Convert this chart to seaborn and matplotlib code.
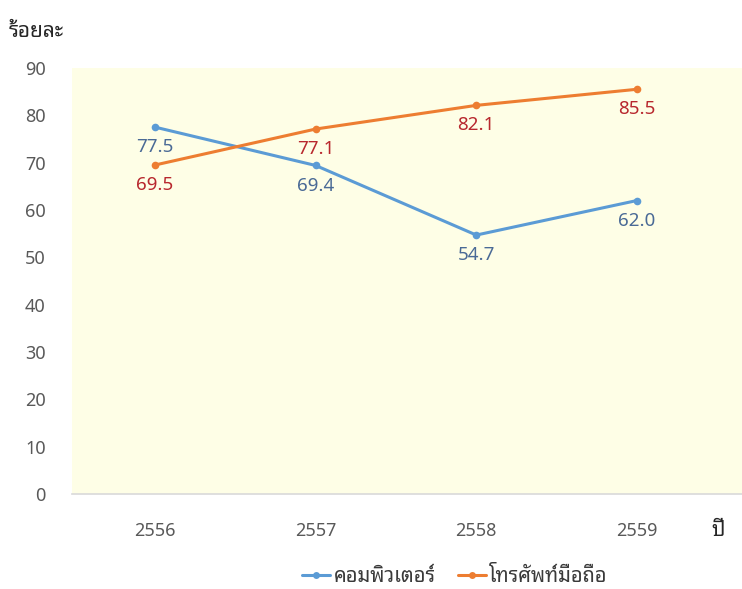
import matplotlib
matplotlib.use("Agg")
import matplotlib.pyplot as plt
from matplotlib.lines import Line2D
from matplotlib.font_manager import FontProperties
import seaborn as sns
import pandas as pd

years = ["2556", "2557", "2558", "2559"]
computer = [77.5, 69.4, 54.7, 62.0]
mobile = [69.5, 77.1, 82.1, 85.5]
series_names = ["คอมพิวเตอร์", "โทรศัพท์มือถือ"]
y_ticks = [0, 10, 20, 30, 40, 50, 60, 70, 80, 90]

line_colors = ["#5B9BD5", "#ED7D31"]
label_colors = ["#4A6A96", "#B8282E"]

sns.set_theme(style="white")
plt.rcParams["font.family"] = ["Noto Sans Thai Looped", "Noto Sans", "DejaVu Sans"]
thai_bold = FontProperties(family=["Noto Sans Thai Looped", "Noto Sans Thai", "DejaVu Sans"],
                           weight="bold", size=15)

rows = []
for name, vals in zip(series_names, [computer, mobile]):
    for i, v in enumerate(vals):
        rows.append({"pos": i, "year": years[i], "value": v, "series": name})
df = pd.DataFrame(rows)

fig = plt.figure(figsize=(7.42, 5.89), dpi=100)
ax = fig.add_axes([0.097, 0.1613, 0.903, 0.7233])
ax.set_facecolor("#FEFEE6")

sns.lineplot(data=df, x="pos", y="value", hue="series", palette=line_colors,
             hue_order=series_names, marker="o", markersize=5.5, markeredgewidth=0,
             linewidth=2.2, ax=ax, legend=False, sort=False)

# value labels under each point
for name, col in zip(series_names, label_colors):
    sub = df[df["series"] == name]
    for _, r in sub.iterrows():
        ax.annotate(f"{r['value']:.1f}", (r["pos"], r["value"]), xytext=(0, -8),
                    textcoords="offset points", ha="center", va="top",
                    fontsize=13.5, color=col, family=["Noto Sans", "DejaVu Sans"])

ax.set_xlim(-0.517, 3.654)
ax.set_ylim(0, 90)
ax.set_xticks(range(len(years)))
ax.set_xticklabels(years)
ax.set_yticks(y_ticks)
ax.set_yticklabels([str(t) for t in y_ticks])
ax.tick_params(axis="both", length=0, labelsize=13, labelcolor="#595959")
ax.tick_params(axis="x", pad=20)
ax.tick_params(axis="y", pad=19)
for lab in ax.get_xticklabels() + ax.get_yticklabels():
    lab.set_family(["Noto Sans", "DejaVu Sans"])
    lab.set_fontweight("light")
for s in ["top", "right", "left"]:
    ax.spines[s].set_visible(False)
ax.spines["bottom"].set_color("#D9D9D9")
ax.spines["bottom"].set_linewidth(1.2)
ax.set_xlabel("")
ax.set_ylabel("")

fig.text(0.012, 0.946, "ร้อยละ", fontproperties=thai_bold, color="#262626",
         ha="left", va="center")
fig.text(0.968, 0.100, "ปี", fontproperties=thai_bold, color="#262626",
         ha="center", va="center")

handles = [Line2D([0], [0], color=c, lw=2.2, marker="o", markersize=5, markeredgewidth=0)
           for c in line_colors]
leg_font = FontProperties(family=["Noto Sans Thai Looped", "Noto Sans Thai", "DejaVu Sans"],
                          weight="bold", size=14.5)
fig.legend(handles, series_names, loc="center", bbox_to_anchor=(0.613, 0.02),
           ncol=2, frameon=False, prop=leg_font, handlelength=1.4, handletextpad=0.15,
           columnspacing=1.1)
for t in fig.legends[0].get_texts():
    t.set_color("#3A3A3A")

fig.savefig("out.png", dpi=100)
